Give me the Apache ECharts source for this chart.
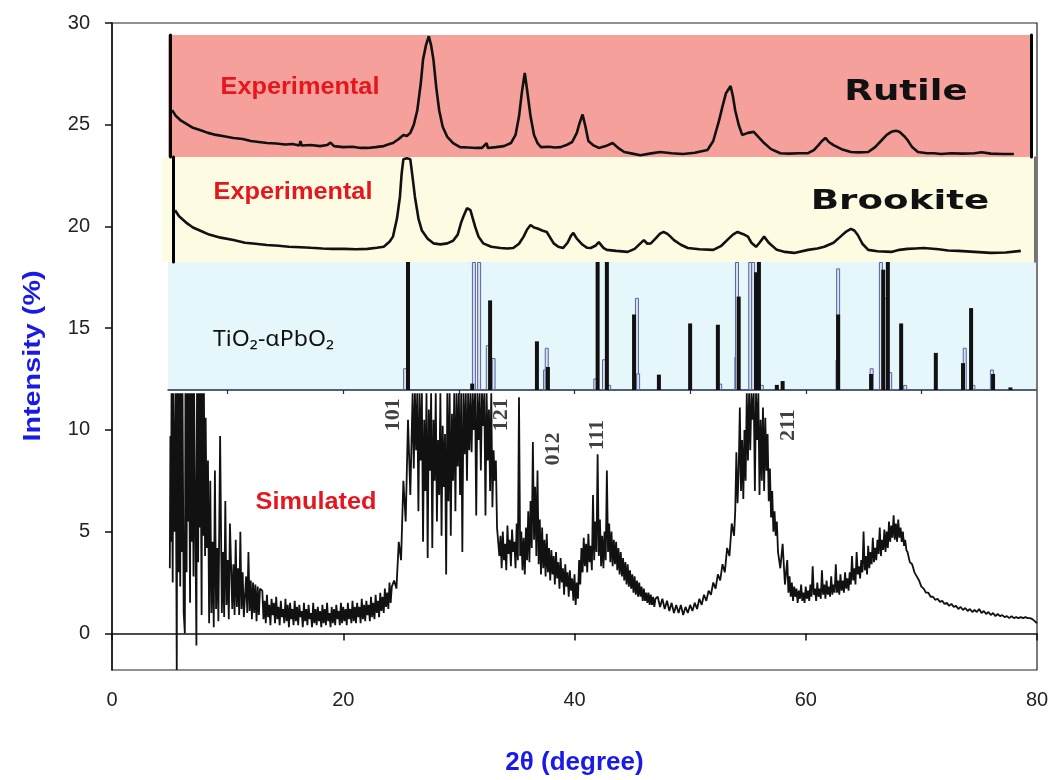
<!DOCTYPE html>
<html>
<head>
<meta charset="utf-8">
<title>XRD patterns of TiO2 phases</title>
<script src="https://cdn.jsdelivr.net/npm/echarts@6/dist/echarts.min.js"></script>
<style>
  html, body { margin: 0; padding: 0; background: #fff; }
  #chart { width: 1054px; height: 780px; }
</style>
</head>
<body>
<div id="chart"></div>
<script>
// ---- axis ticks ----
const xTicks = [0, 20, 40, 60, 80];
const yTicks = [0, 5, 10, 15, 20, 25, 30];
const panelTicks = [10, 20, 30, 40, 50, 60, 70];

// ---- Rutile, experimental (2θ, offset intensity) ----
const rutile = [
  [5.2,25.72],[5.5,25.45],[5.9,25.23],[6.4,25.05],[7.0,24.85],[7.6,24.74],[8.3,24.6],[9.0,24.5],
  [9.8,24.42],[10.5,24.35],[11.3,24.3],[12.0,24.2],[12.7,24.15],[13.4,24.1],[14.2,24.08],[15.0,24.03],
  [15.6,24.05],[16.2,23.98],[16.3,24.2],[16.4,23.98],[17.2,24.0],[18.0,23.95],[18.6,24.0],[18.9,24.12],
  [19.2,23.95],[20.0,23.9],[20.8,23.92],[21.5,23.86],[22.1,23.86],[22.8,23.9],[23.5,23.95],[24.0,24.05],
  [24.3,24.1],[24.8,24.3],[25.2,24.5],[25.5,24.45],[25.8,24.6],[26.1,25.0],[26.4,25.7],[26.7,27.0],
  [26.9,28.2],[27.15,28.9],[27.4,29.35],[27.6,28.9],[27.8,28.2],[28.05,26.8],[28.3,25.7],[28.6,24.9],
  [29.0,24.4],[29.5,24.1],[30.1,23.9],[30.8,23.88],[31.5,23.86],[32.0,23.86],[32.4,24.1],[32.5,23.86],
  [33.2,23.9],[33.9,23.95],[34.5,24.1],[34.9,24.5],[35.2,25.4],[35.45,26.6],[35.7,27.55],[35.95,26.5],
  [36.2,25.4],[36.5,24.5],[36.8,24.1],[37.1,23.9],[37.8,23.92],[38.3,23.88],[38.8,23.9],[39.3,24.0],
  [39.8,24.15],[40.2,24.6],[40.45,25.1],[40.7,25.5],[40.95,24.9],[41.2,24.2],[41.6,24.0],[42.1,23.86],
  [42.7,23.95],[43.3,24.1],[43.8,23.85],[44.3,23.66],[45.0,23.58],[45.7,23.5],[46.5,23.58],[47.4,23.66],
  [48.4,23.6],[49.4,23.56],[50.4,23.62],[51.5,23.76],[52.0,24.2],[52.5,25.2],[52.8,25.9],[53.1,26.55],
  [53.5,26.9],[53.7,26.4],[53.9,25.7],[54.2,25.0],[54.5,24.5],[55.0,24.6],[55.5,24.65],[55.9,24.4],
  [56.4,24.1],[57.0,23.8],[57.8,23.6],[58.6,23.58],[59.4,23.6],[60.2,23.6],[60.7,23.75],[61.1,24.0],
  [61.4,24.2],[61.7,24.35],[62.0,24.15],[62.4,24.0],[63.1,23.8],[63.9,23.66],[64.6,23.64],[65.4,23.66],
  [66.0,23.9],[66.5,24.2],[67.0,24.5],[67.4,24.65],[67.8,24.7],[68.1,24.65],[68.5,24.45],[68.8,24.25],
  [69.2,23.9],[69.7,23.66],[70.5,23.6],[71.1,23.6],[71.7,23.56],[72.6,23.6],[73.5,23.58],[74.6,23.6],
  [75.2,23.65],[76.0,23.58],[77.0,23.56],[78.0,23.56]
];

// ---- Brookite, experimental ----
const brookite = [
  [5.45,20.8],[5.8,20.5],[6.5,20.15],[7.0,19.95],[7.6,19.8],[8.4,19.6],[9.4,19.45],[10.5,19.33],
  [11.5,19.2],[12.4,19.15],[13.4,19.09],[14.4,19.05],[15.3,19.0],[16.3,18.98],[17.2,18.95],[18.2,18.92],
  [19.1,18.9],[20.1,18.9],[21.1,18.88],[22.1,18.9],[22.9,18.95],[23.5,19.0],[24.0,19.25],[24.3,19.5],
  [24.65,20.4],[24.9,21.45],[25.05,22.6],[25.2,23.3],[25.5,23.35],[25.8,23.3],[26.0,22.4],[26.2,21.45],
  [26.5,20.4],[26.8,19.8],[27.3,19.4],[27.8,19.17],[28.4,19.12],[29.0,19.17],[29.5,19.3],[29.9,19.6],
  [30.2,20.2],[30.4,20.5],[30.7,20.9],[31.0,20.8],[31.2,20.4],[31.4,20.0],[31.7,19.5],[32.1,19.17],
  [32.8,19.0],[33.6,18.94],[34.2,18.92],[34.7,18.94],[35.2,19.15],[35.6,19.5],[35.9,19.85],[36.2,20.07],
  [36.5,19.95],[36.8,19.9],[37.2,19.8],[37.6,19.73],[38.2,19.17],[38.6,19.0],[39.0,18.94],[39.4,19.2],
  [39.7,19.55],[39.9,19.68],[40.2,19.4],[40.7,19.1],[41.1,18.95],[41.4,18.94],[41.8,19.05],[42.1,19.23],
  [42.5,18.95],[42.8,18.85],[43.6,18.8],[44.6,18.75],[45.2,18.9],[45.7,19.17],[46.0,19.33],[46.3,19.15],
  [46.6,19.17],[47.0,19.4],[47.4,19.65],[47.7,19.73],[48.0,19.65],[48.3,19.5],[48.6,19.33],[49.2,19.1],
  [49.8,18.94],[50.8,18.88],[52.0,18.85],[52.7,19.05],[53.2,19.33],[53.7,19.6],[54.1,19.73],[54.6,19.62],
  [55.0,19.5],[55.3,19.2],[55.7,19.0],[56.0,19.2],[56.4,19.5],[56.8,19.2],[57.5,18.85],[58.2,18.75],
  [59.0,18.7],[60.2,18.85],[61.0,18.92],[61.6,19.0],[62.4,19.2],[63.0,19.5],[63.5,19.75],[63.9,19.88],
  [64.2,19.8],[64.5,19.58],[64.9,19.15],[65.4,18.85],[66.2,18.78],[67.4,18.75],[68.1,18.85],[68.8,18.9],
  [69.5,18.92],[70.2,18.94],[71.5,18.88],[72.3,18.82],[73.2,18.8],[74.6,18.75],[76.0,18.7],[77.3,18.72],
  [78.6,18.8]
];

// ---- TiO2-αPbO2 reference lines (2θ, relative intensity, 100 = panel top) ----
const tio2Lines = [
  [25.6,100],[31.15,5],[32.7,70],[36.75,38],[37.7,18],[42.0,100],[42.8,100],[45.15,59],[47.3,12],
  [50.0,52],[52.4,51],[54.2,73],[55.7,92],[55.95,100],[57.5,4],[58.0,7],[62.8,59],[65.65,12.5],
  [66.7,94],[67.1,100],[68.25,52],[71.25,29],[73.6,21],[74.3,64],[76.2,12.5],[77.7,2]
];
const tio2LinesAlt = [
  [25.35,17],[31.3,100],[31.75,100],[32.5,35],[33.0,25],[37.45,16],[37.6,33],[41.8,9],[42.55,24],
  [43.0,4],[45.4,72],[45.5,13],[52.6,5],[54.0,26],[54.05,100],[55.2,100],[55.45,100],[56.2,4],
  [62.75,24],[62.8,95],[65.7,17],[66.5,100],[66.85,72],[67.3,14],[68.6,4],[73.75,33],[74.5,4],[76.1,16]
];

// ---- Simulated pattern ----
const simulated = [
  // low-angle noise
  [5.0,3.2],[5.05,9.7],[5.1,4.5],[5.15,11.8],[5.25,2.5],[5.3,11.8],[5.4,5.0],[5.5,11.8],[5.6,-1.8],
  [5.65,11.8],[5.75,3.0],[5.8,11.8],[5.9,2.3],[5.95,11.8],[6.05,4.0],[6.1,11.8],[6.2,1.0],[6.3,0.0],
  [6.35,11.8],[6.45,3.0],[6.5,11.8],[6.6,5.5],[6.65,11.8],[6.75,1.5],[6.8,11.8],[6.9,4.5],[6.95,11.8],
  [7.05,2.8],[7.1,11.8],[7.2,6.0],[7.3,-0.6],[7.35,11.8],[7.45,3.5],[7.5,11.8],[7.6,5.2],[7.65,11.8],
  [7.75,0.9],[7.8,11.8],[7.9,4.8],[7.95,11.8],[8.05,3.8],[8.1,10.6],[8.2,4.2],[8.3,8.5],
  [8.4,0.5],[8.5,7.5],[8.6,1.0],[8.7,4.5],[8.8,0.3],[8.9,8.0],[9.0,1.2],[9.1,4.2],[9.2,0.6],[9.35,9.7],
  [9.5,1.0],[9.6,4.0],[9.7,0.8],[9.8,6.5],[9.9,1.4],[10.0,3.6],[10.1,0.7],[10.2,5.4],[10.4,1.2],[10.5,3.4],
  [10.6,0.9],[10.7,4.6],[10.8,1.3],[10.9,3.2],[11.0,0.9],[11.1,5.0],[11.2,1.2],[11.3,3.0],[11.4,0.8],
  [11.6,2.8],[11.7,1.0],[11.8,4.0],[11.9,1.1],[12.0,2.6],[12.1,0.7],[12.2,2.5],[12.3,1.0],[12.4,2.4],
  [12.5,0.6],[12.6,2.3],[12.7,0.9],[12.8,2.2],
  // flat background
  [13.0,2.1],[13.1,0.7],[13.2,1.6],[13.3,0.5],[13.4,1.9],[13.5,0.8],[13.6,1.4],[13.7,0.4],[13.8,1.7],
  [13.9,0.9],[14.0,1.5],[14.1,0.5],[14.2,1.8],[14.3,0.7],[14.4,1.3],[14.5,0.4],[14.6,1.6],[14.7,0.8],
  [14.8,1.2],[14.9,0.5],[15.0,1.7],[15.1,0.6],[15.2,1.4],[15.3,0.3],[15.4,1.5],[15.5,0.7],[15.6,1.2],
  [15.7,0.4],[15.8,1.6],[15.9,0.6],[16.0,1.3],[16.1,0.4],[16.2,1.4],[16.3,0.8],[16.4,1.1],[16.5,0.3],
  [16.6,1.5],[16.7,0.6],[16.8,1.2],[16.9,0.4],[17.0,1.4],[17.1,0.7],[17.2,1.0],[17.3,0.3],[17.4,1.5],
  [17.5,0.5],[17.6,1.2],[17.7,0.4],[17.8,1.3],[17.9,0.6],[18.0,1.1],[18.1,0.3],[18.2,1.4],[18.3,0.5],
  [18.4,1.2],[18.5,0.4],[18.6,1.5],[18.7,0.6],[18.8,1.0],[18.9,0.3],[19.0,1.3],[19.1,0.5],[19.2,1.2],
  [19.3,0.4],[19.4,1.4],[19.5,0.7],[19.6,1.1],[19.7,0.4],[19.8,1.5],[19.9,0.5],[20.0,1.3],[20.1,0.6],
  [20.2,1.2],[20.3,0.4],[20.4,1.5],[20.5,0.7],[20.6,1.2],[20.7,0.5],[20.8,1.6],[20.9,0.6],[21.0,1.3],
  [21.1,0.5],[21.2,1.5],[21.3,0.8],[21.4,1.3],[21.5,0.5],[21.6,1.7],[21.7,0.7],[21.8,1.4],[21.9,0.6],
  [22.0,1.6],[22.1,0.9],[22.2,1.4],[22.3,0.6],[22.4,1.8],[22.5,0.8],[22.6,1.5],[22.7,0.7],[22.8,1.9],
  [22.9,1.0],[23.0,1.6],[23.1,0.8],[23.2,2.0],[23.3,1.1],[23.4,1.8],[23.5,1.0],[23.6,2.2],[23.7,1.3],
  [23.8,2.0],[23.9,1.2],[24.0,2.5],[24.1,1.5],[24.2,2.3],
  // 101 / 121 cluster
  [24.4,2.6],[24.6,2.2],[24.8,4.5],[25.0,3.6],[25.2,7.5],[25.4,5.5],[25.6,10.5],[25.8,6.8],
  [26.0,11.8],[26.1,8.1],[26.2,11.8],[26.3,9.0],[26.4,11.8],[26.5,6.0],[26.6,11.8],[26.7,8.5],[26.8,11.8],
  [26.9,4.5],[27.0,10.5],[27.1,7.0],[27.2,11.8],[27.3,3.7],[27.4,11.0],[27.5,8.0],[27.6,11.8],[27.7,4.2],
  [27.8,10.5],[27.9,7.5],[28.0,11.8],[28.1,5.5],[28.2,9.5],[28.3,6.8],[28.4,11.8],[28.5,4.8],[28.6,10.2],
  [28.7,7.2],[28.8,9.8],[28.9,2.9],[29.0,11.8],[29.1,6.5],[29.2,11.8],[29.3,4.8],[29.4,10.8],[29.5,7.5],
  [29.6,11.8],[29.7,6.0],[29.8,11.8],[29.9,8.2],[30.0,11.8],[30.1,6.8],[30.2,11.8],[30.3,4.0],[30.4,11.8],
  [30.5,8.8],[30.6,11.8],[30.7,7.5],[30.8,11.8],[30.9,9.0],[31.0,11.8],[31.1,8.9],[31.2,11.8],[31.3,10.0],
  [31.4,11.8],[31.5,5.8],[31.6,11.8],[31.7,9.5],[31.8,11.8],[31.9,8.0],[32.0,11.8],[32.1,10.2],[32.2,11.8],
  [32.3,5.8],[32.4,11.8],[32.5,8.5],[32.6,11.0],[32.7,7.0],[32.8,11.8],[32.9,6.2],[33.0,9.0],[33.1,7.5],
  [33.2,8.5],[33.3,5.2],
  // 012 region
  [33.4,5.2],[33.5,3.8],[33.6,4.8],[33.7,3.2],[33.8,5.0],[33.9,3.6],[34.0,4.4],[34.1,3.1],[34.2,5.3],
  [34.3,3.9],[34.4,4.6],[34.5,3.3],[34.6,5.1],[34.7,4.0],[34.8,4.5],[34.9,3.2],[35.0,5.4],[35.1,3.6],
  [35.2,11.6],[35.3,3.8],[35.4,5.0],[35.5,3.1],[35.6,4.7],[35.7,2.9],[35.8,5.2],[35.9,3.6],[36.0,6.0],
  [36.1,3.5],[36.2,6.5],[36.3,4.2],[36.4,9.4],[36.5,4.6],[36.6,7.2],[36.7,3.8],[36.8,8.0],[36.9,3.4],
  [37.0,5.6],[37.1,2.9],[37.2,5.2],[37.3,3.2],[37.4,4.6],[37.5,2.8],[37.6,4.9],[37.7,3.0],[37.8,4.2],
  [37.9,2.6],[38.0,4.1],[38.1,2.9],[38.2,3.8],[38.3,2.4],[38.4,4.0],[38.5,2.7],[38.6,3.5],[38.7,2.2],
  [38.8,3.7],[38.9,2.5],[39.0,3.2],[39.1,1.9],[39.2,3.4],[39.3,2.3],[39.4,3.0],[39.5,1.8],[39.6,3.1],
  [39.7,2.1],[39.8,2.7],[39.9,1.6],[40.0,2.9],[40.1,1.4],[40.2,2.5],[40.3,1.7],
  // 111 region
  [40.4,3.6],[40.5,2.4],[40.6,4.2],[40.7,3.0],[40.8,4.7],[40.9,3.3],[41.0,4.4],[41.1,3.0],[41.2,4.9],
  [41.3,3.5],[41.4,4.3],[41.5,3.1],[41.6,6.8],[41.7,3.6],[41.8,5.5],[41.9,4.0],[42.0,8.8],[42.1,3.8],
  [42.2,5.6],[42.3,3.3],[42.4,4.8],[42.5,3.2],[42.6,5.0],[42.7,3.6],[42.8,8.0],[42.9,4.0],[43.0,5.4],
  [43.1,3.5],[43.2,5.0],[43.3,3.3],[43.4,4.6],
  [43.5,3.4],[43.6,4.5],[43.7,3.1],[43.8,4.2],[43.9,2.9],[44.0,4.0],[44.1,2.8],[44.2,3.7],[44.3,2.6],
  [44.4,3.5],[44.5,2.4],[44.6,3.4],[44.7,2.3],[44.8,3.1],[44.9,2.2],[45.0,2.9],[45.1,2.0],[45.2,2.8],
  [45.3,1.9],[45.4,2.6],[45.5,1.8],[45.6,2.5],[45.7,1.8],[45.8,2.3],[45.9,1.6],[46.0,2.2],[46.1,1.6],
  [46.2,2.0],[46.3,1.5],[46.4,2.0],[46.5,1.4],[46.6,1.9],[46.7,1.4],[46.8,1.8],[46.9,1.3],[47.0,1.7],
  [47.2,1.8],[47.4,1.3],[47.6,1.7],[47.8,1.2],[48.0,1.6],[48.2,1.1],[48.4,1.5],[48.6,1.0],[48.8,1.4],
  [49.0,1.0],[49.2,1.4],[49.4,0.9],[49.6,1.3],[49.8,1.0],[50.0,1.4],[50.2,1.1],[50.4,1.5],[50.6,1.2],
  [50.8,1.7],[51.0,1.4],[51.2,1.9],[51.4,1.6],[51.6,2.1],[51.8,1.9],[52.0,2.5],[52.2,2.2],[52.4,2.9],
  [52.6,2.6],
  // 211 region
  [52.8,3.4],[53.0,3.0],[53.2,4.2],[53.4,3.8],[53.6,5.4],[53.8,4.8],[53.9,6.0],[54.0,8.9],[54.1,6.4],
  [54.2,8.0],[54.3,11.1],[54.4,7.0],[54.5,9.5],[54.6,6.6],[54.7,10.0],[54.8,7.5],[54.9,11.8],[55.0,8.5],
  [55.1,11.8],[55.2,9.0],[55.3,11.8],[55.4,10.5],[55.5,11.8],[55.6,7.0],[55.7,11.8],[55.8,9.5],[55.9,11.8],
  [56.0,6.8],[56.1,10.5],[56.2,7.5],[56.3,11.1],[56.4,7.0],[56.5,10.6],[56.6,8.0],[56.7,9.8],[56.8,6.5],
  [56.9,8.1],[57.0,5.7],[57.1,7.0],[57.2,5.0],[57.3,6.0],[57.4,4.8],[57.5,5.5],[57.6,4.0],
  [57.8,3.2],[58.0,4.4],[58.2,2.4],[58.4,3.6],
  [58.5,2.0],[58.6,2.8],[58.7,1.8],[58.8,2.5],[58.9,1.6],[59.0,2.3],[59.1,1.8],[59.2,2.2],[59.3,1.5],
  [59.4,2.1],[59.5,1.7],[59.6,2.4],[59.7,1.6],[59.8,2.0],[59.9,1.5],[60.0,2.3],[60.1,1.7],[60.2,2.1],
  [60.3,1.6],[60.4,2.4],[60.5,1.8],[60.6,3.3],[60.7,1.9],[60.8,2.2],[60.9,1.6],[61.0,2.5],[61.1,1.8],
  [61.2,2.2],[61.3,1.7],[61.4,3.1],[61.5,1.9],[61.6,2.4],[61.7,1.7],[61.8,2.6],[61.9,1.9],[62.0,2.3],
  [62.1,1.8],[62.2,2.8],[62.3,1.9],[62.4,2.4],[62.5,2.0],[62.6,3.4],[62.7,2.0],[62.8,2.6],[62.9,1.9],
  [63.0,2.9],[63.1,2.1],[63.2,2.6],[63.3,2.0],[63.4,3.0],[63.5,2.2],[63.6,2.7],[63.7,2.1],
  // broad high-angle band
  [63.8,3.0],[63.9,2.4],[64.0,3.8],[64.1,2.6],[64.2,3.2],[64.3,2.4],[64.4,4.0],[64.5,2.9],[64.6,3.3],
  [64.7,2.7],[64.8,3.6],[64.9,3.0],[65.0,5.0],[65.1,3.1],[65.2,3.8],[65.3,2.9],[65.4,4.3],[65.5,3.2],
  [65.6,4.0],[65.7,3.4],[65.8,4.7],[65.9,3.5],[66.0,4.2],[66.1,3.6],[66.2,4.6],[66.3,3.9],[66.4,5.2],
  [66.5,3.8],[66.6,4.6],[66.7,4.1],[66.8,5.1],[66.9,4.0],[67.0,5.0],[67.1,4.2],[67.2,5.5],[67.3,4.5],
  [67.4,5.3],[67.5,4.7],[67.6,5.8],[67.7,4.6],[67.8,5.4],[67.9,4.5],[68.0,5.6],[68.1,4.7],[68.2,5.2],
  [68.3,4.5],[68.4,5.0],[68.5,4.3],[68.6,4.6],[68.7,4.1],[68.8,4.0],
  [69.0,3.5],[69.2,3.4],[69.4,3.0],[69.6,2.8],[69.8,2.6],[70.0,2.3],[70.2,2.2],[70.4,2.0],[70.6,2.0],
  [70.8,1.8],[71.0,1.8],[71.2,1.65],[71.4,1.7],[71.6,1.55],[71.8,1.6],[72.0,1.45],[72.2,1.5],[72.4,1.35],
  [72.6,1.45],[72.8,1.3],[73.0,1.35],[73.2,1.2],[73.4,1.3],[73.6,1.15],[73.8,1.25],[74.0,1.1],[74.2,1.2],
  [74.4,1.05],[74.6,1.15],[74.8,1.05],[75.0,1.2],[75.2,1.0],[75.4,1.1],[75.6,0.95],[75.8,1.05],[76.0,0.9],
  [76.2,1.0],[76.4,0.85],[76.6,0.95],[76.8,0.85],[77.0,0.9],[77.2,0.8],[77.4,0.85],[77.6,0.75],[77.8,0.85],
  [78.0,0.75],[78.2,0.8],[78.4,0.75],[78.6,0.8],[78.8,0.75],[79.0,0.8],[79.2,0.75],[79.4,0.75],[79.6,0.7],
  [79.8,0.6],[80.0,0.5]
];

// ---- Miller indices placed beside the simulated peaks (2θ, height, label) ----
const hklLabels = [
  [24.3, 10.74, '101'],
  [33.7, 10.74, '121'],
  [38.2, 9.06, '012'],
  [42.0, 9.75, '111'],
  [58.5, 10.24, '211']
];

// ---- layout ----
const PLOT = { left: 112, top: 23, width: 925, height: 647 };
const X_MIN = 0, X_MAX = 80, Y_MIN = -1.8, Y_MAX = 30;
const pxToX = px => X_MIN + (px - PLOT.left) / PLOT.width * (X_MAX - X_MIN);

const PANEL_RUTILE = { left: 168, top: 35, width: 865, height: 122, color: '#f5a09b' };
const PANEL_BROOKITE = { left: 162, top: 157, width: 874, height: 105, color: '#fdfbe2' };
const PANEL_TIO2 = { left: 168, top: 262, width: 868, height: 128, color: '#e6f7fc' };

const AXIS_FONT = 'Liberation Sans, Arial, sans-serif';
const TITLE_BLUE = '#1a1ae6';
const LABEL_RED = '#e5161d';
const hiddenAxis = { show: false, min: 0, max: 1 };
function edgeLine(gridIndex, position, offset, color, width) {
  return {
    gridIndex, position, offset, min: 0, max: 1, type: 'value',
    axisLine: { show: true, lineStyle: { color, width } },
    axisTick: { show: false }, axisLabel: { show: false }, splitLine: { show: false }
  };
}
function panelGrid(p) {
  return {
    left: p.left, top: p.top, width: p.width, height: p.height,
    show: true, backgroundColor: p.color, borderWidth: 0,
    containLabel: false, outerBoundsMode: 'none'
  };
}
function panelText(x, y, text, font, fill, scaleX, align) {
  return {
    type: 'text', x, y, scaleX: scaleX || 1,
    style: { text, fill, font, textAlign: align || 'center', textVerticalAlign: 'middle' }
  };
}

const chart = echarts.init(document.getElementById('chart'), null, { renderer: 'canvas' });

chart.setOption({
  backgroundColor: '#ffffff',
  animation: false,
  grid: [
    { left: PLOT.left, top: PLOT.top, width: PLOT.width, height: PLOT.height,
      show: true, borderColor: '#222', borderWidth: 1.2, backgroundColor: '#fff',
      containLabel: false, outerBoundsMode: 'none' },
    panelGrid(PANEL_RUTILE),
    panelGrid(PANEL_BROOKITE),
    panelGrid(PANEL_TIO2)
  ],
  xAxis: [
    {
      gridIndex: 0, type: 'value', min: X_MIN, max: X_MAX, interval: 20,
      name: '2θ (degree)', nameLocation: 'middle', nameGap: 80,
      nameTextStyle: { color: TITLE_BLUE, fontSize: 26, fontWeight: 'bold', fontFamily: AXIS_FONT },
      axisLine: { lineStyle: { color: '#111', width: 1.5 } },
      axisTick: { length: 7, lineStyle: { color: '#111', width: 1.5 } },
      axisLabel: { color: '#222', fontSize: 20, margin: 20, fontFamily: AXIS_FONT },
      splitLine: { show: false }
    },
    { gridIndex: 1, type: 'value', ...hiddenAxis },
    { gridIndex: 2, type: 'value', ...hiddenAxis },
    {
      gridIndex: 3, type: 'value',
      min: pxToX(PANEL_TIO2.left), max: pxToX(PANEL_TIO2.left + PANEL_TIO2.width),
      axisLine: { show: true, lineStyle: { color: '#1d2b57', width: 1.5 } },
      axisTick: { show: true, customValues: panelTicks, length: 4, lineStyle: { color: '#1d2b57', width: 1.2 } },
      axisLabel: { show: false }, splitLine: { show: false }
    }
  ],
  yAxis: [
    {
      gridIndex: 0, type: 'value', min: Y_MIN, max: Y_MAX,
      axisLine: { lineStyle: { color: '#111', width: 1.5 } },
      axisTick: { length: 7, customValues: yTicks, lineStyle: { color: '#111', width: 1.5 } },
      axisLabel: { color: '#222', fontSize: 20, margin: 22, customValues: yTicks, fontFamily: AXIS_FONT },
      splitLine: { show: false }
    },
    edgeLine(1, 'left', -2, '#000', 3),
    edgeLine(1, 'right', -1.5, '#000', 3),
    edgeLine(2, 'left', -11, '#000', 3),
    edgeLine(2, 'right', -1, '#444', 1.5),
    { gridIndex: 3, type: 'value', min: 0, max: 100, show: false }
  ],
  series: [
    {
      name: 'TiO2-αPbO2 (b)', type: 'bar', xAxisIndex: 3, yAxisIndex: 5,
      data: tio2LinesAlt, barWidth: 4, barGap: '-100%',
      itemStyle: { color: '#d9e1f1', borderColor: '#56659b', borderWidth: 1 }
    },
    {
      name: 'TiO2-αPbO2', type: 'bar', xAxisIndex: 3, yAxisIndex: 5,
      data: tio2Lines, barWidth: 4, barGap: '-100%',
      itemStyle: { color: '#111' }
    },
    {
      name: 'Rutile', type: 'line', xAxisIndex: 0, yAxisIndex: 0, data: rutile,
      showSymbol: false, symbol: 'none', lineStyle: { color: '#111', width: 2.6 }
    },
    {
      name: 'Brookite', type: 'line', xAxisIndex: 0, yAxisIndex: 0, data: brookite,
      showSymbol: false, symbol: 'none', lineStyle: { color: '#111', width: 2.6 }
    },
    {
      name: 'Simulated', type: 'line', xAxisIndex: 0, yAxisIndex: 0, data: simulated,
      showSymbol: false, symbol: 'none', lineStyle: { color: '#111', width: 1.8 }
    },
    {
      name: 'hkl', type: 'scatter', xAxisIndex: 0, yAxisIndex: 0, data: hklLabels,
      symbolSize: 0.01, silent: true,
      label: {
        show: true, position: 'inside', rotate: 90,
        formatter: p => p.data[2],
        color: '#111', fontSize: 22, fontWeight: 'bold',
        fontFamily: 'Liberation Serif, Times New Roman, serif'
      }
    }
  ],
  graphic: [
    {
      type: 'text', x: 33, y: 356, rotation: Math.PI / 2, scaleX: 1.2,
      style: { text: 'Intensity (%)', fill: TITLE_BLUE, font: 'bold 24px Liberation Sans, Arial, sans-serif',
               textAlign: 'center', textVerticalAlign: 'middle' }
    },
    panelText(300, 88, 'Experimental', 'bold 23px Liberation Sans, Arial, sans-serif', LABEL_RED, 1.1),
    panelText(293, 193, 'Experimental', 'bold 23px Liberation Sans, Arial, sans-serif', LABEL_RED, 1.1),
    panelText(906, 92, 'Rutile', 'bold 29px DejaVu Sans, sans-serif', '#111', 1.28),
    panelText(900, 202, 'Brookite', 'bold 27px DejaVu Sans, sans-serif', '#111', 1.38),
    panelText(213, 340, 'TiO₂-αPbO₂', '22px Noto Sans, Open Sans, sans-serif', '#111', 1.05, 'left'),
    panelText(316, 503, 'Simulated', 'bold 23px Liberation Sans, Arial, sans-serif', LABEL_RED, 1.1)
  ]
});
</script>
</body>
</html>
